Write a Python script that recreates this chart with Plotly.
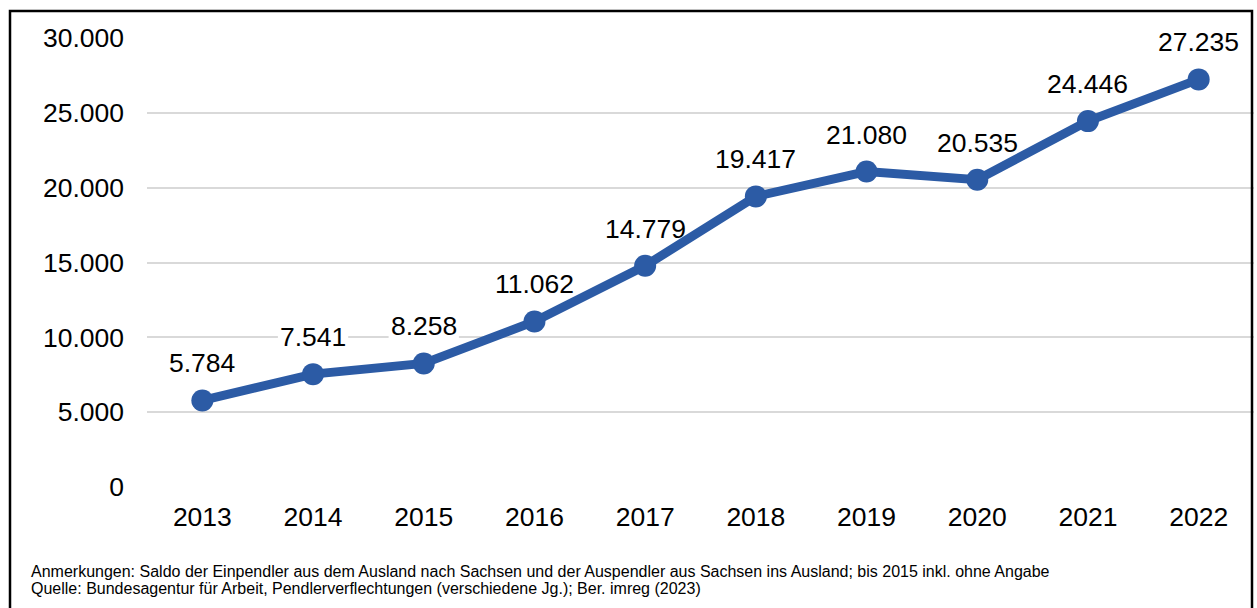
import plotly.graph_objects as go

# Saldo der Ein- und Auspendler (Ausland <-> Sachsen)
years = ["2013", "2014", "2015", "2016", "2017", "2018", "2019", "2020", "2021", "2022"]
saldo = [5784, 7541, 8258, 11062, 14779, 19417, 21080, 20535, 24446, 27235]
y_ticks = [0, 5000, 10000, 15000, 20000, 25000, 30000]
note_lines = [
    "Anmerkungen: Saldo der Einpendler aus dem Ausland nach Sachsen und der Auspendler aus Sachsen ins Ausland; bis 2015 inkl. ohne Angabe",
    "Quelle: Bundesagentur für Arbeit, Pendlerverflechtungen (verschiedene Jg.); Ber. imreg (2023)",
]

LINE_COLOR = "#2C5BA5"
FONT = "Liberation Sans, Arial, sans-serif"
FS = 26.5
LABEL_SHIFT = 37


def de_num(v):
    return f"{v:,}".replace(",", ".")


W, H = 1257, 608
ML, MR, MT, MB = 147, 3, 38, 121
pw, ph = W - ML - MR, H - MT - MB


def px_x(x):
    return (x - ML) / pw


def px_y(y):
    return (H - MB - y) / ph


fig = go.Figure()
fig.add_trace(go.Scatter(
    x=years, y=saldo, mode="lines+markers",
    line=dict(color=LINE_COLOR, width=9),
    marker=dict(color=LINE_COLOR, size=22),
    cliponaxis=False, hoverinfo="skip",
))

annotations = []
shapes = []
# value labels, placed by category index; a white box behind each label
# hides the gridlines but stays beneath the line
for i, v in enumerate(saldo):
    txt = de_num(v)
    half_w = (sum(0.278 if c == "." else 0.556 for c in txt) * FS) / 2 + 2
    shapes.append(dict(
        type="rect", layer="between", xref="x", yref="y",
        xsizemode="pixel", ysizemode="pixel", xanchor=i, yanchor=v,
        x0=-half_w, x1=half_w, y0=LABEL_SHIFT - 12, y1=LABEL_SHIFT + 12,
        fillcolor="white", line=dict(width=0),
    ))
    annotations.append(dict(
        x=i, y=v, xref="x", yref="y", text=txt, showarrow=False,
        yanchor="middle", yshift=LABEL_SHIFT,
        font=dict(family=FONT, size=FS, color="black"),
    ))
for i, line in enumerate(note_lines):
    annotations.append(dict(
        x=px_x(29), y=px_y(571 + 17 * i), xref="paper", yref="paper",
        text=line, showarrow=False, xanchor="left", yanchor="middle",
        font=dict(family=FONT, size=16, color="black"),
    ))

# outer frame
shapes.append(dict(
    type="rect", xref="paper", yref="paper",
    x0=px_x(10), x1=px_x(1252), y0=px_y(620), y1=px_y(11),
    line=dict(color="black", width=2.5), fillcolor="rgba(0,0,0,0)", layer="above",
))

fig.update_layout(
    width=W, height=H, autosize=False,
    margin=dict(l=ML, r=MR, t=MT, b=MB, pad=0),
    paper_bgcolor="white", plot_bgcolor="white",
    showlegend=False,
    font=dict(family=FONT, size=FS, color="black"),
    xaxis=dict(
        type="category", range=[-0.5, 9.5], showgrid=False, zeroline=False,
        showline=False, ticks="", ticklabelstandoff=11,
        tickfont=dict(family=FONT, size=FS, color="black"),
    ),
    yaxis=dict(
        range=[0, 30000], tickvals=y_ticks, ticktext=[de_num(t) for t in y_ticks],
        showgrid=True, gridcolor="#D9D9D9", gridwidth=2, zeroline=False,
        showline=False, ticks="", ticklabelstandoff=22,
        tickfont=dict(family=FONT, size=FS, color="black"),
    ),
    annotations=annotations,
    shapes=shapes,
)

fig.write_html("out.html")
